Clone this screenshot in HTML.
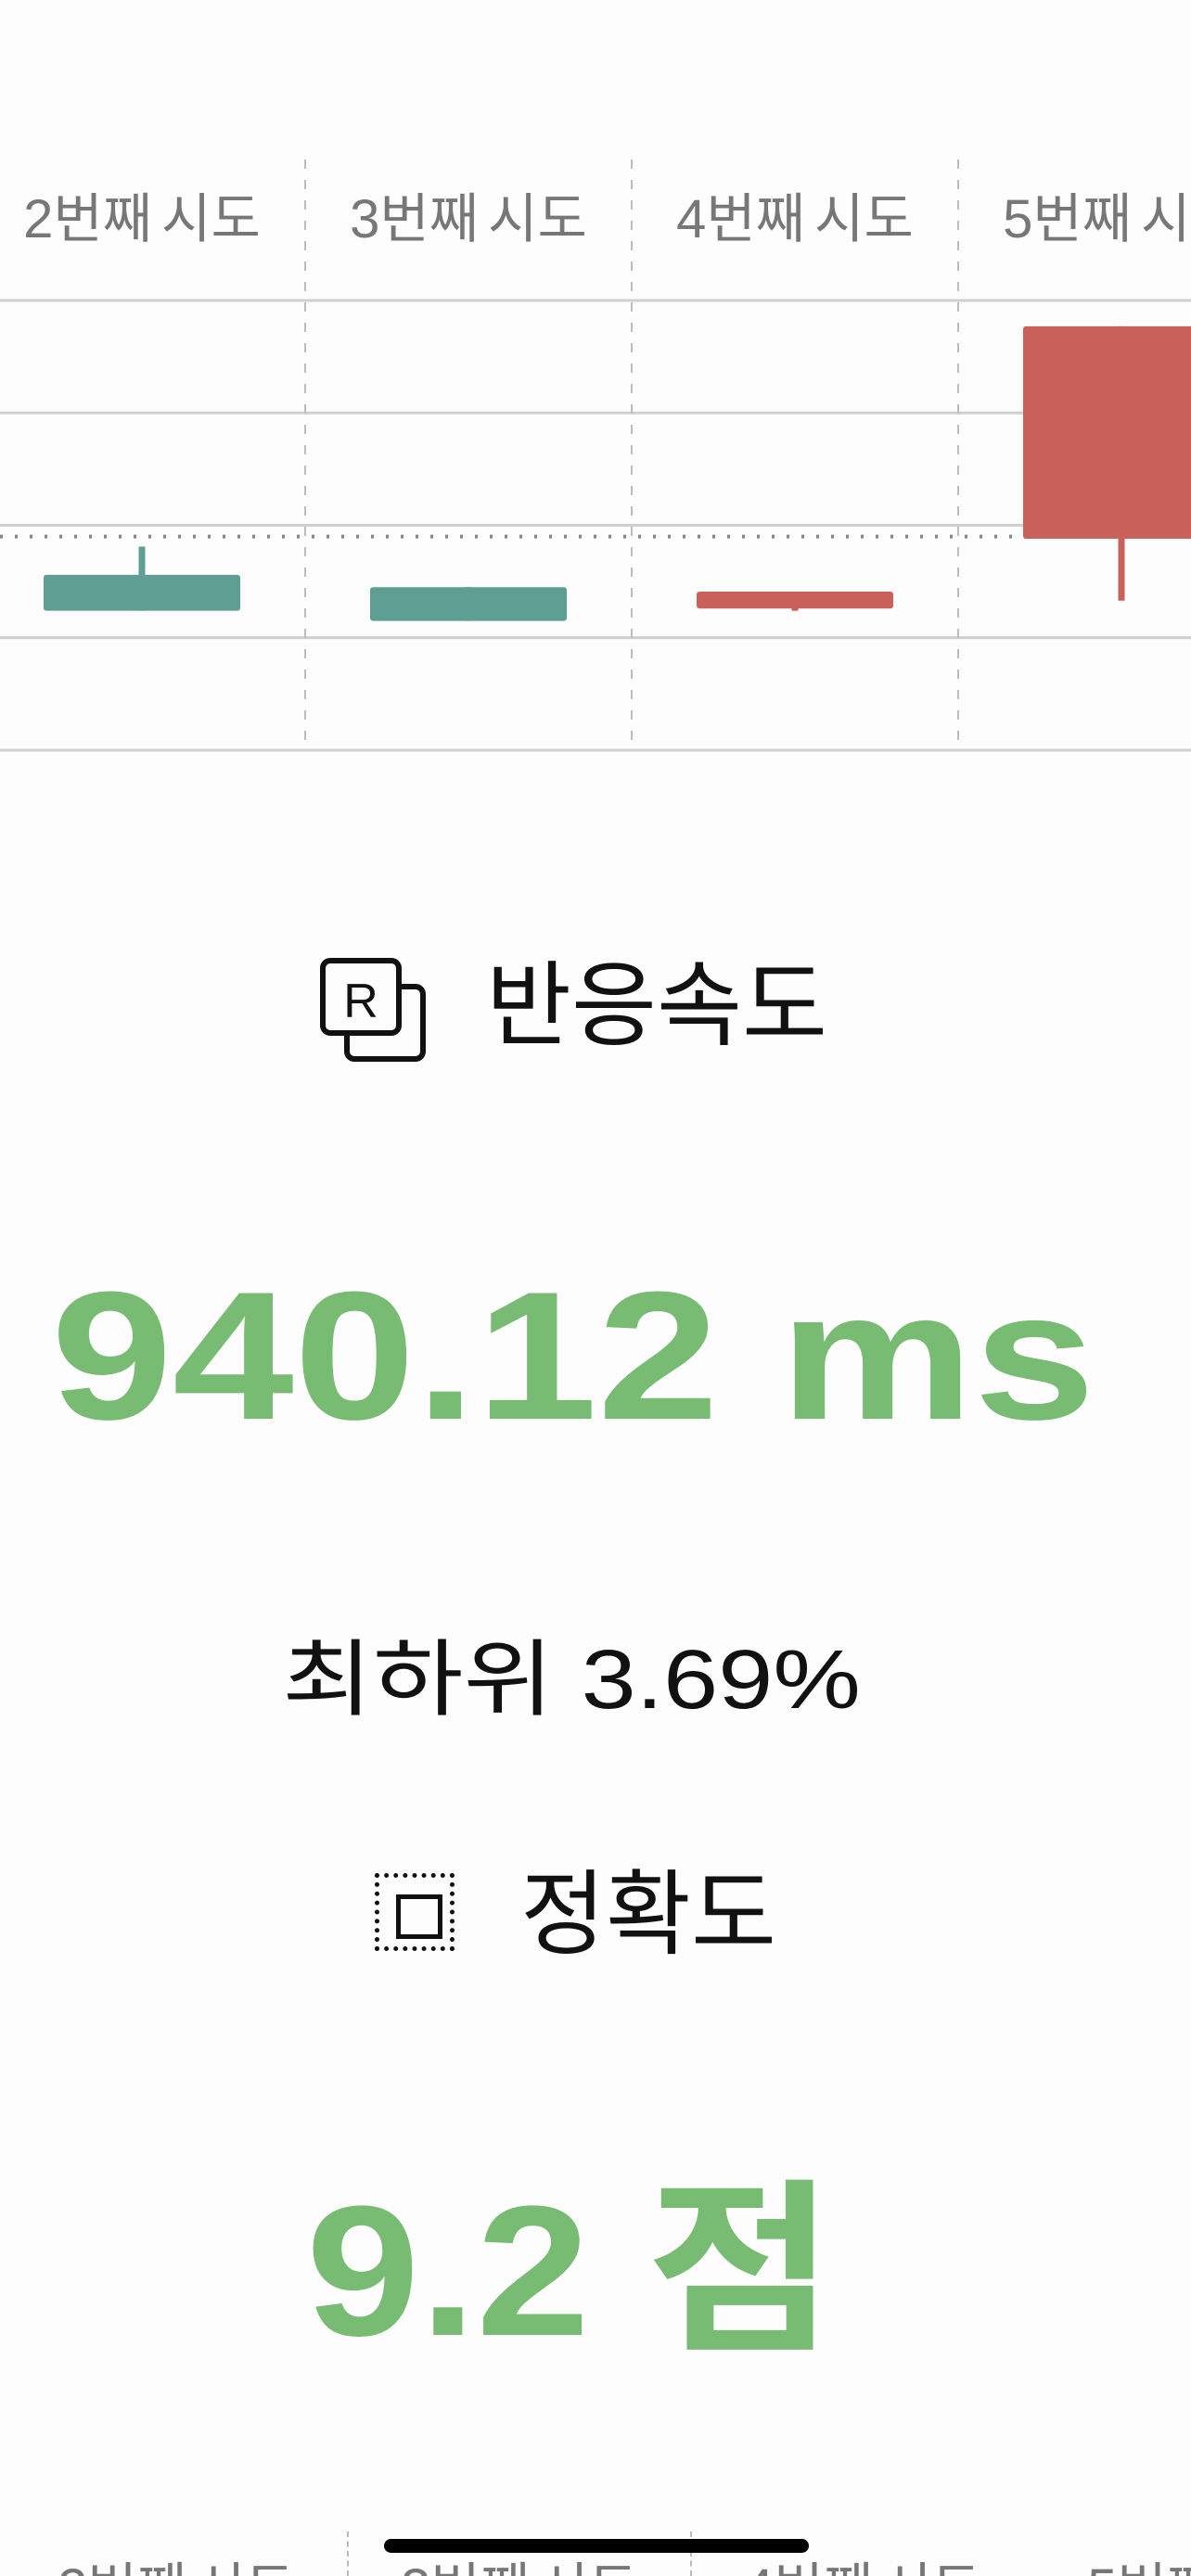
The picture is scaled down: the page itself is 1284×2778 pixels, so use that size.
<!DOCTYPE html>
<html><head><meta charset="utf-8">
<style>
html,body{margin:0;padding:0;background:#fdfdfd;}
body{width:1284px;height:2778px;position:relative;overflow:hidden;font-family:"Liberation Sans","Noto Sans CJK KR",sans-serif;}
.t{position:absolute;white-space:nowrap;transform-origin:0 0;}
.bl{position:absolute;top:32px;font-size:58px;line-height:60px;color:#777;white-space:nowrap;transform:translateX(-50%);word-spacing:-6px;}
</style></head>
<body>
<svg id="chart" width="1284" height="830" style="position:absolute;left:0;top:0;overflow:hidden" xmlns="http://www.w3.org/2000/svg"></svg>

<svg style="position:absolute;left:340px;top:1030px" width="125" height="120">
  <rect x="34" y="34" width="82" height="78" rx="8" fill="#fdfdfd" stroke="#111" stroke-width="6"/>
  <rect x="8" y="6" width="82" height="78" rx="8" fill="#fdfdfd" stroke="#111" stroke-width="6"/>
  <text x="49" y="67" text-anchor="middle" font-size="52" font-family="Liberation Sans, sans-serif" fill="#111">R</text>
</svg>
<div class="t" style="left:524px;top:1030px;font-size:100px;line-height:110px;color:#111;">반응속도</div>
<div class="t" style="left:55px;top:1352px;font-size:197px;line-height:220px;font-weight:bold;color:#78bb73;transform:scaleX(1.195);">940.12 ms</div>
<div class="t" style="left:304px;top:1762px;font-size:90px;line-height:100px;color:#111;transform:scaleX(1.18);">최하위 3.69%</div>
<div style="position:absolute;left:404px;top:2020px;width:86px;height:84px;border:5px dotted #111;box-sizing:border-box;">
  <div style="position:absolute;left:18px;top:18px;width:40px;height:38px;border:5px solid #111;"></div>
</div>
<div class="t" style="left:561px;top:2010px;font-size:100px;line-height:110px;color:#111;">정확도</div>
<div class="t" style="left:330px;top:2335px;font-size:200px;line-height:230px;font-weight:bold;color:#78bb73;transform:scaleX(1.1);">9.2 점</div>

<div style="position:absolute;left:0;top:2730px;width:1284px;height:48px;overflow:hidden;">
  <div style="position:absolute;left:374px;top:0;height:48px;border-left:2px dashed #bbb;"></div>
  <div style="position:absolute;left:744px;top:0;height:48px;border-left:2px dashed #bbb;"></div>
  <div class="bl" style="left:190px;">2번째 시도</div>
  <div class="bl" style="left:560px;">3번째 시도</div>
  <div class="bl" style="left:930px;">4번째 시도</div>
  <div class="bl" style="left:1300px;">5번째 시도</div>
</div>
<div style="position:absolute;left:414px;top:2738px;width:458px;height:15px;border-radius:8px;background:#000;"></div>

<script>
const categories = ["2번째 시도","3번째 시도","4번째 시도","5번째 시도"];
const openVals = [156,145,126,188];
const closeVals = [124,115,141,377];
const highVals = [181,145,141,377];
const lowVals = [124,115,124,133];
const yTicks = [0,100,200,300,400];
const refValue = 190;

const NS="http://www.w3.org/2000/svg";
const svg=document.getElementById('chart');
const y0=809, pxPer=1.2125;
const yScale=v=>y0-v*pxPer;
const colW=352, firstCenter=153;
const xScale=i=>firstCenter+i*colW;
function mk(tag,attrs){const e=document.createElementNS(NS,tag);for(const k in attrs)e.setAttribute(k,attrs[k]);svg.appendChild(e);return e;}

yTicks.forEach((t,i)=>{
  const l=mk('line',{x1:0,x2:1284,y1:yScale(t),y2:yScale(t),stroke:'#cfcfcf','stroke-width':3});
  
  
});
categories.forEach((c,i)=>{
  if(i>0){
    const d=mk('line',{x1:xScale(i)-colW/2,x2:xScale(i)-colW/2,y1:172,y2:809,stroke:'#bdbdbd','stroke-width':2,'stroke-dasharray':'10 12'});
    
    
  }
  const tx=mk('text',{x:xScale(i),y:256,'text-anchor':'middle','font-size':58,fill:'#777','word-spacing':'-6','font-family':'Liberation Sans, Noto Sans CJK KR, sans-serif'});
  tx.textContent=c;
  
  
});
const ref=mk('line',{x1:0,x2:1284,y1:yScale(refValue),y2:yScale(refValue),stroke:'#888','stroke-width':4,'stroke-dasharray':'3 13'});



categories.forEach((c,i)=>{
  const up=closeVals[i]>openVals[i];
  const col=up?'#c9605a':'#5f9e92';
  const cx=xScale(i);
  const w=mk('line',{x1:cx,x2:cx,y1:yScale(highVals[i]),y2:yScale(lowVals[i]),stroke:col,'stroke-width':7});
  
  
  const top=yScale(Math.max(openVals[i],closeVals[i])), bot=yScale(Math.min(openVals[i],closeVals[i]));
  const b=mk('rect',{x:cx-106,y:top,width:212,height:Math.max(bot-top,4),fill:col,rx:3});
  
  
});
</script>
</body></html>
